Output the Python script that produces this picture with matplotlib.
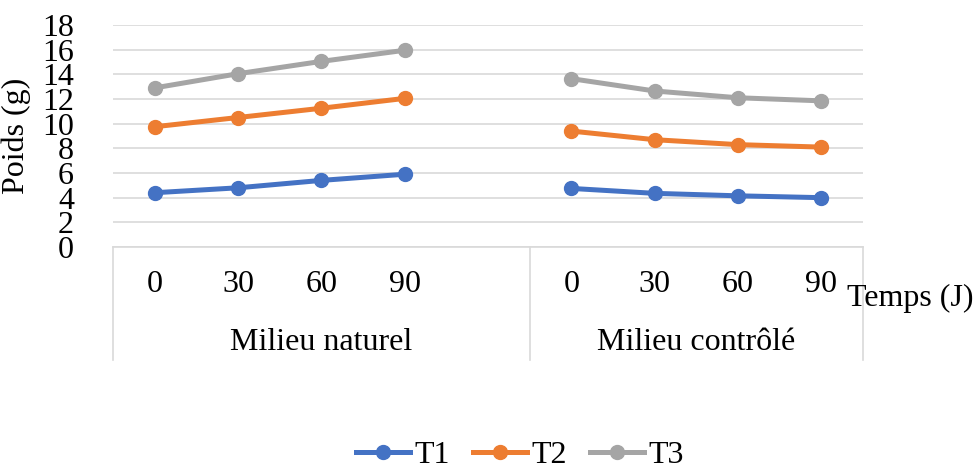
import matplotlib
matplotlib.use("Agg")
import matplotlib.pyplot as plt
from matplotlib.transforms import blended_transform_factory

plt.rcParams['font.family'] = ['Liberation Serif', 'DejaVu Serif']

groups = ["Milieu naturel", "Milieu contrôlé"]
days = ["0", "30", "60", "90"]
series_names = ["T1", "T2", "T3"]
colors = ["#4472C4", "#ED7D31", "#A5A5A5"]

naturel = {
    "T1": [4.4, 4.8, 5.4, 5.9],
    "T2": [9.75, 10.5, 11.25, 12.05],
    "T3": [12.9, 14.05, 15.05, 15.95],
}
controle = {
    "T1": [4.75, 4.35, 4.15, 4.0],
    "T2": [9.4, 8.7, 8.3, 8.1],
    "T3": [13.65, 12.65, 12.1, 11.85],
}

W, H = 974, 468
fig = plt.figure(figsize=(W / 100, H / 100), dpi=100)
ax = fig.add_axes([113 / W, 1 - 247 / H, 750 / W, 222 / H])

x_nat = [0, 1, 2, 3]
x_ctl = [5, 6, 7, 8]
for name, c in zip(series_names, colors):
    ax.plot(x_nat, naturel[name], color=c, lw=3.6, marker='o', ms=10, label=name)
    ax.plot(x_ctl, controle[name], color=c, lw=3.6, marker='o', ms=10)

ax.set_xlim(-0.5, 8.5)
ax.set_ylim(0, 18)
ax.set_yticks(range(0, 19, 2))
ax.yaxis.grid(True, color='#D9D9D9', lw=1.2)
ax.set_axisbelow(True)
for s in ['top', 'right', 'left']:
    ax.spines[s].set_visible(False)
ax.spines['bottom'].set_color('#D9D9D9')
ax.spines['bottom'].set_linewidth(1.2)
ax.tick_params(axis='y', length=0, pad=28, labelsize=23)
ax.tick_params(axis='x', length=0, labelbottom=False)
ax.set_ylabel("Poids (g)", fontsize=23, labelpad=8)

tr = blended_transform_factory(ax.transData, ax.transAxes)
for xs in (x_nat, x_ctl):
    for xi, d in zip(xs, days):
        ax.text(xi, -0.171, d, transform=tr, ha='center', va='center', fontsize=23)
ax.text(2.0, -0.428, groups[0], transform=tr, ha='center', va='center', fontsize=23)
ax.text(6.5, -0.428, groups[1], transform=tr, ha='center', va='center', fontsize=23)
for xv in (-0.5, 4.5, 8.5):
    ax.plot([xv, xv], [0, -0.51], transform=tr, color='#D9D9D9', lw=1.2, clip_on=False)

fig.text(847 / W, 1 - 298 / H, "Temps (J)", ha='left', va='center', fontsize=23)

ax.legend(loc='center', bbox_to_anchor=(520 / W, 1 - 455 / H), bbox_transform=fig.transFigure,
          ncol=3, frameon=False, fontsize=23, handlelength=1.7, handletextpad=0.15,
          columnspacing=0.7, borderpad=0)

fig.savefig("out.png", dpi=100)
